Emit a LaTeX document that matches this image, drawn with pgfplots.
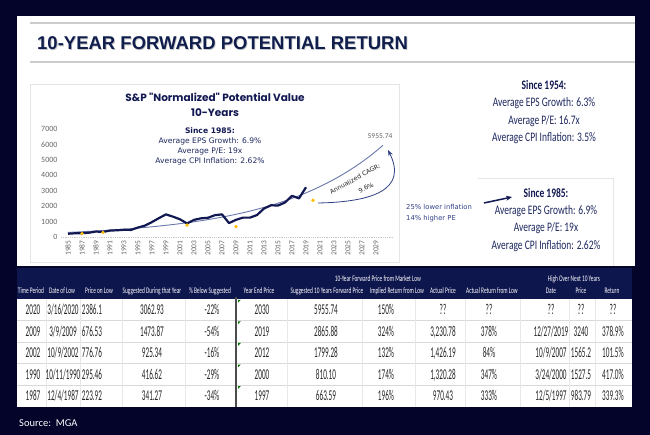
\documentclass[border=0pt]{standalone}
\usepackage{pgfplots}
\pgfplotsset{compat=1.18}
\usepackage{fontspec}
\usepackage{graphicx}
\setmainfont{Carlito}
\newfontfamily\arialf{Liberation Sans}
\newfontfamily\verd{DejaVu Sans}
\newfontfamily\popf{Poppins}
\usetikzlibrary{arrows.meta}
\definecolor{frame}{RGB}{4,4,42}
\definecolor{hdr}{RGB}{14,22,78}
\definecolor{ttl}{RGB}{16,30,78}
\definecolor{navy}{RGB}{18,24,82}
\definecolor{steel}{RGB}{105,120,170}
\definecolor{gold}{RGB}{255,190,0}
\definecolor{txtnavy}{RGB}{30,40,95}
\definecolor{blu}{RGB}{50,65,135}
\newcommand{\fs}[1]{\fontsize{#1}{#1}\selectfont}
\newcommand{\sx}[2]{\scalebox{#1}[1]{#2}}

\pgfplotstableread{
year value
1985 211.3
1986 242.2
1987 247.1
1988 277.7
1989 353.4
1990 330.2
1991 417.1
1992 435.7
1993 466.5
1994 459.3
1995 615.9
1996 740.7
1997 970.4
1998 1229.2
1999 1469.3
2000 1320.3
2001 1148.1
2002 879.8
2003 1111.9
2004 1211.9
2005 1248.3
2006 1418.3
2007 1468.4
2008 903.3
2009 1115.1
2010 1257.6
2011 1257.6
2012 1426.2
2013 1848.4
2014 2058.9
2015 2043.9
2016 2238.8
2017 2673.6
2018 2506.9
2019 3230.8
}\spx

\pgfplotstableread{
year value
1985 299
1986 319
1987 341.3
1988 365
1989 390
1990 416.6
1991 445
1992 476
1993 508
1994 543
1995 581
1996 621
1997 663.6
1998 709
1999 758
2000 810.1
2001 866
2002 925.3
2003 988
2004 1056
2005 1129
2006 1207
2007 1290
2008 1379
2009 1473.9
2010 1575
2011 1683
2012 1799.3
2013 1921
2014 2053
2015 2195
2016 2346
2017 2508
2018 2681
2019 2865.9
2020 3062.9
2021 3273
2022 3498
2023 3738
2024 3995
2025 4269
2026 4562
2027 4875
2028 5210
2029 5572
2030 5955.74
}\fitc

\pgfplotstableread{
year value
1987 223.92
1990 295.46
2002 776.76
2009 676.53
2020 2386.1
}\lows

\tikzset{tcell/.style={font=\fs{15}, text=black!85, inner sep=0pt, anchor=base},
         hcell/.style={font=\fs{8.5}, text=white, inner sep=0pt, anchor=base},
         rtxt/.style={font=\fs{13}, text=txtnavy, inner sep=0pt},
         ctxt/.style={font=\verd\fs{7.6}, text=txtnavy, inner sep=0pt}}
\newcommand{\tc}[3]{\node[tcell] at (#1,#2) {\sx{0.48}{#3}};}
\newcommand{\hc}[3]{\node[hcell] at (#1,#2) {\sx{0.63}{#3}};}
\newcommand{\rc}[3]{\node[rtxt] at (#1,#2) {\sx{0.73}{#3}};}

\newcommand{\trowA}[8]{%
 \tc{33}{#1}{#2}
 \tc{63}{#1}{#3}
 \tc{92}{#1}{#4}
 \tc{152}{#1}{#5}
 \tc{212}{#1}{#6}
 \tc{262}{#1}{#7}
 \tc{326}{#1}{#8}}
\newcommand{\trowB}[7]{%
 \tc{386}{#1}{#2}
 \tc{443}{#1}{#3}
 \tc{489}{#1}{#4}
 \tc{551}{#1}{#5}
 \tc{581}{#1}{#6}
 \tc{613}{#1}{#7}}

\begin{document}
\begin{tikzpicture}
\fill[frame] (0,0) rectangle (650pt,435pt);
\begin{scope}[x=1pt,y=-1pt,yshift=435pt]
 \fill[white] (17,16) rectangle (635,266);
 \draw[gray!40, line width=1.2] (30,23) -- (635,23);
 \draw[gray!40, line width=1.2] (30,62) -- (635,62);
 \node[anchor=west, inner sep=0pt, font=\arialf\bfseries\fs{18.5}, text=gray!45] at (37.8,43.8) {10-YEAR FORWARD POTENTIAL RETURN};
 \node[anchor=west, inner sep=0pt, font=\arialf\bfseries\fs{18.5}, text=ttl] at (37,43) {10-YEAR FORWARD POTENTIAL RETURN};
 % chart box
 \draw[gray!20, line width=0.8] (30,84) rectangle (399,262);
 % right box
 \draw[gray!20, line width=0.8] (478,178) -- (613,178) -- (613,266);
\end{scope}

\begin{axis}[
  at={(61pt,198pt)}, anchor=south west, scale only axis,
  width=336pt, height=107.8pt,
  xmin=1984, xmax=2032, ymin=0, ymax=7000,
  axis line style={draw=none}, major tick length=0pt,
  xtick={1985,1987,...,2029}, ytick={0,1000,...,7000},
  /pgf/number format/1000 sep={},
  /pgf/number format/assume math mode=true,
  xticklabel style={rotate=90, anchor=east, font=\fs{7.5}, text=black!60},
  yticklabel style={font=\fs{8}, text=black!60},
  clip=false,
]
\draw[densely dotted, gray!45, line width=0.8pt] (axis cs:1984,0) -- (axis cs:2031.5,0);
\addplot[steel, line width=0.9pt, no markers] table[x=year,y=value] {\fitc};
\addplot[navy, line width=2.2pt, no markers, line join=round] table[x=year,y=value] {\spx};
\addplot[only marks, mark=*, mark size=1.5pt, gold, mark options={draw=gold, fill=gold}] table[x=year,y=value] {\lows};
\end{axis}

\begin{scope}[x=1pt,y=-1pt,yshift=435pt]
 % chart titles
 \node[font=\popf\bfseries\fs{10.5}, text=navy, inner sep=0pt] at (215,97) {S\&P "Normalized" Potential Value};
 \node[font=\popf\bfseries\fs{10.5}, text=navy, inner sep=0pt] at (215,113) {10-Years};
 \node[ctxt, font=\verd\bfseries\fs{7.6}, text=navy] at (210,131) {Since 1985:};
 \node[ctxt] at (210,141.5) {Average EPS Growth: 6.9\%};
 \node[ctxt] at (210,151.5) {Average P/E: 19x};
 \node[ctxt] at (210,161.5) {Average CPI Inflation: 2.62\%};
 \node[font=\fs{7.5}, text=black!60, inner sep=0pt] at (380,136) {5955.74};
 % CAGR arrow
 \draw[blu, line width=0.8pt, -{Stealth[length=6pt,width=4.5pt]}] (318,203) .. controls (372,202) and (408,190) .. (388,150);
 \node[font=\verd\fs{6.3}, text=black!85, rotate=29, inner sep=0pt] at (355,179) {Annualized CAGR:};
 \node[font=\verd\fs{6.3}, text=black!85, rotate=29, inner sep=0pt] at (366,188) {9.6\%};

 % right text blocks
 \node[rtxt, font=\bfseries\fs{13}, text=navy] at (544,85) {\sx{0.73}{Since 1954:}};
 \rc{544}{103}{Average EPS Growth: 6.3\%}
 \rc{544}{121}{Average P/E: 16.7x}
 \rc{544}{138}{Average CPI Inflation: 3.5\%}
 \node[rtxt, font=\bfseries\fs{13}, text=navy] at (546,193) {\sx{0.73}{Since 1985:}};
 \rc{546}{211}{Average EPS Growth: 6.9\%}
 \rc{546}{228}{Average P/E: 19x}
 \rc{546}{246}{Average CPI Inflation: 2.62\%}
 \node[font=\verd\fs{6.8}, text=blu, anchor=west, inner sep=0pt] at (406,207) {25\% lower inflation};
 \node[font=\verd\fs{6.8}, text=blu, anchor=west, inner sep=0pt] at (406,219) {14\% higher PE};
 \draw[navy, line width=1.5pt, -{Stealth[length=6pt,width=5pt]}] (484,203) -- (512,197);

 % table
 \fill[hdr] (17,268) rectangle (632,299);
 \fill[white] (17,299) rectangle (632,407);
 \foreach \yy in {320.6,342.2,363.8,385.4} \draw[gray!30, line width=0.6] (17,\yy) -- (632,\yy);
 \foreach \xx in {46,80,122,185,287,362,415,465,520,569,595} \draw[gray!18, line width=0.6] (\xx,299) -- (\xx,407);
 \draw[gray!60!black, line width=1.3] (236,297) -- (236,407);
 \foreach \yy in {299,320.6,342.2,363.8,385.4} \fill[green!45!black] (238,\yy+0.8) -- ++(2.8,0) -- ++(-2.8,2.8) -- cycle;
 \hc{378}{281.5}{10-Year Forward Price from Market Low}
 \hc{574}{281.5}{High Over Next 10 Years}
 \hc{31}{293.5}{Time Period}
 \hc{62}{293.5}{Date of Low}
 \hc{99}{293.5}{Price on Low}
 \hc{152}{293.5}{Suggested During that Year}
 \hc{210}{293.5}{\% Below Suggested}
 \hc{259}{293.5}{Year End Price}
 \hc{327}{293.5}{Suggested 10 Years Forward Price}
 \hc{397}{293.5}{Implied Return from Low}
 \hc{443}{293.5}{Actual Price}
 \hc{492}{293.5}{Actual Return from Low}
 \hc{551}{293.5}{Date}
 \hc{581}{293.5}{Price}
 \hc{612}{293.5}{Return}
 \trowA{314.5}{2020}{3/16/2020}{2386.1}{3062.93}{-22\%}{2030}{5955.74}
 \trowB{314.5}{150\%}{??}{??}{??}{??}{??}
 \trowA{336.1}{2009}{3/9/2009}{676.53}{1473.87}{-54\%}{2019}{2865.88}
 \trowB{336.1}{324\%}{3,230.78}{378\%}{12/27/2019}{3240}{378.9\%}
 \trowA{357.7}{2002}{10/9/2002}{776.76}{925.34}{-16\%}{2012}{1799.28}
 \trowB{357.7}{132\%}{1,426.19}{84\%}{10/9/2007}{1565.2}{101.5\%}
 \trowA{379.3}{1990}{10/11/1990}{295.46}{416.62}{-29\%}{2000}{810.10}
 \trowB{379.3}{174\%}{1,320.28}{347\%}{3/24/2000}{1527.5}{417.0\%}
 \trowA{400.9}{1987}{12/4/1987}{223.92}{341.27}{-34\%}{1997}{663.59}
 \trowB{400.9}{196\%}{970.43}{333\%}{12/5/1997}{983.79}{339.3\%}
 \node[anchor=west, inner sep=0pt, font=\fs{10.5}, text=white] at (19,423) {Source:\ \ MGA};
\end{scope}
\pgfresetboundingbox
\path (0,0) rectangle (650pt,435pt);
\end{tikzpicture}
\end{document}
